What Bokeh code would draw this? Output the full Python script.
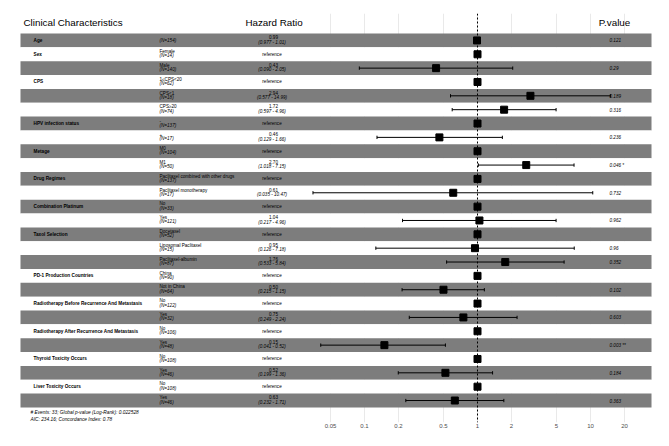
from bokeh.plotting import figure
from bokeh.models import Range1d, FixedTicker, Span, ColumnDataSource
from bokeh.core.properties import value
from bokeh.embed import file_html
from bokeh.resources import INLINE

variables = ["Age", "Sex", "", "CPS", "", "", "HPV infection status", "", "Metage", "",
             "Drug Regimes", "", "Combination Platinum", "", "Taxol Selection", "", "",
             "PD-1 Production Countries", "", "Radiotherapy Before Recurrence And Metastasis", "",
             "Radiotherapy After Recurrence And Metastasis", "", "Thyroid Toxicity Occurs", "",
             "Liver Toxicity Occurs", ""]
levels = ["", "Female", "Male", "1≤CPS<20", "CPS<1", "CPS≥20", "-", "+", "M0", "M1",
          "Paclitaxel combined with other drugs", "Paclitaxel monotherapy", "No", "Yes",
          "Docetaxel", "Liposomal Paclitaxel", "Paclitaxel-albumin", "China", "Not in China",
          "No", "Yes", "No", "Yes", "No", "Yes", "No", "Yes"]
n_obs = [154, 14, 140, 62, 18, 74, 137, 17, 104, 50, 137, 17, 33, 121, 52, 15, 87, 90, 64,
         122, 32, 106, 48, 108, 46, 108, 46]
# None = reference level
hr = [0.99, None, 0.43, None, 2.94, 1.72, None, 0.46, None, 2.70, None, 0.61, None, 1.04,
      None, 0.95, 1.76, None, 0.50, None, 0.75, None, 0.15, None, 0.52, None, 0.63]
ci_low = [0.977, None, 0.090, None, 0.577, 0.597, None, 0.129, None, 1.018, None, 0.035, None, 0.217,
          None, 0.126, 0.533, None, 0.215, None, 0.249, None, 0.041, None, 0.199, None, 0.232]
ci_high = [1.01, None, 2.05, None, 14.99, 4.96, None, 1.66, None, 7.15, None, 10.47, None, 4.96,
           None, 7.18, 5.84, None, 1.15, None, 2.24, None, 0.52, None, 1.36, None, 1.71]
p_values = ["0.121", "", "0.29", "", "0.189", "0.316", "", "0.236", "", "0.046 *", "", "0.732", "",
            "0.962", "", "0.96", "0.352", "", "0.102", "", "0.603", "", "0.003 **", "", "0.184", "", "0.363"]
tick_values = [0.05, 0.1, 0.2, 0.5, 1, 2, 5, 10, 20]
tick_labels = ["0.05", "0.1", "0.2", "0.5", "1", "2", "5", "10", "20"]
footnote = ["# Events: 33; Global p-value (Log-Rank): 0.022528",
            "AIC: 234.16; Concordance Index: 0.78"]

FONT = value("Liberation Sans")
nrows = len(levels)

# pixel -> data helpers (layout only)
def xd(px):
    return 10 ** ((px - 477.0) / 113.0)

def yd(px):
    return (px - 33.0) / 13.85

p = figure(width=653, height=430, output_backend="svg", toolbar_location=None,
           x_axis_type="log", y_axis_location=None,
           x_range=Range1d(xd(0), xd(653)), y_range=Range1d(yd(422), yd(13)),
           min_border_left=0, min_border_right=0, min_border_top=13, min_border_bottom=8)
p.outline_line_color = None
p.background_fill_color = "white"
p.ygrid.visible = False
p.xgrid.ticker = FixedTicker(ticks=tick_values)
p.xgrid.grid_line_color = "#E3E3E3"
p.xgrid.grid_line_width = 0.8
p.xaxis.ticker = FixedTicker(ticks=tick_values)
p.xaxis.major_label_overrides = {v: l for v, l in zip(tick_values, tick_labels)}
p.xaxis.axis_line_color = None
p.xaxis.major_tick_line_color = None
p.xaxis.minor_tick_line_color = None
p.xaxis.major_tick_out = 0
p.xaxis.major_tick_in = 0
p.xaxis.major_label_standoff = 1
p.xaxis.major_label_text_font_size = "6px"
p.xaxis.major_label_text_color = "#4D4D4D"
p.xaxis.major_label_text_font = "Liberation Sans"

rows = list(range(1, nrows + 1))
centers = [r - 0.5 for r in rows]

# bands
band_colors = ["#7D7D7D" if r % 2 == 1 else "#FFFFFF" for r in rows]
p.quad(left=[xd(20)] * nrows, right=[xd(651)] * nrows,
       top=[r - 1 for r in rows], bottom=rows, fill_color=band_colors, line_color=None)

# reference line
p.add_layout(Span(location=1, dimension="height", line_color="black",
                  line_dash="2 2", line_width=1))

# headers
hy = yd(21.5)
p.text(x=[xd(23)], y=[hy], text=["Clinical Characteristics"], text_font=FONT,
       text_font_size="9.8px", text_align="left", text_baseline="middle", text_color="black")
p.text(x=[xd(273.5)], y=[hy], text=["Hazard Ratio"], text_font=FONT,
       text_font_size="9.8px", text_align="center", text_baseline="middle", text_color="black")
p.text(x=[xd(598.3)], y=[hy], text=["P.value"], text_font=FONT,
       text_font_size="9.8px", text_align="left", text_baseline="middle", text_color="black")

# variable names
vr = [(v, c) for v, c in zip(variables, centers) if v]
p.text(x=[xd(33)] * len(vr), y=[c for _, c in vr], text=[v for v, _ in vr], text_font=FONT,
       text_font_size="4.7px", text_font_style="bold", text_align="left",
       text_baseline="middle", text_color="black")

# levels & N
lv = [(l, c) for l, c in zip(levels, centers) if l]
p.text(x=[xd(159)] * len(lv), y=[c - 0.2 for _, c in lv], text=[l for l, _ in lv],
       text_font=FONT, text_font_size="4.6px", text_align="left", text_baseline="middle",
       text_color="black")
n_y = [c + 0.11 if l else c for l, c in zip(levels, centers)]
p.text(x=[xd(159)] * nrows, y=n_y, text=["(N=%d)" % n for n in n_obs], text_font=FONT,
       text_font_size="4.6px", text_font_style="italic", text_align="left",
       text_baseline="middle", text_color="black")

# HR text
ref_c = [c for h, c in zip(hr, centers) if h is None]
p.text(x=[xd(271.5)] * len(ref_c), y=ref_c, text=["reference"] * len(ref_c), text_font=FONT,
       text_font_size="4.6px", text_align="center", text_baseline="middle", text_color="black")
est = [(h, lo, hi, c) for h, lo, hi, c in zip(hr, ci_low, ci_high, centers) if h is not None]
p.text(x=[xd(273)] * len(est), y=[e[3] - 0.23 for e in est], text=["%.2f" % e[0] for e in est],
       text_font=FONT, text_font_size="4.6px", text_align="center", text_baseline="middle",
       text_color="black")
p.text(x=[xd(271.5)] * len(est), y=[e[3] + 0.12 for e in est],
       text=["(%.3f - %.2f)" % (e[1], e[2]) for e in est], text_font=FONT,
       text_font_size="4.6px", text_font_style="italic", text_align="center",
       text_baseline="middle", text_color="black")

# p values
pv = [(t, c) for t, c in zip(p_values, centers) if t]
p.text(x=[xd(609)] * len(pv), y=[c for _, c in pv], text=[t for t, _ in pv], text_font=FONT,
       text_font_size="4.6px", text_font_style="italic", text_align="left",
       text_baseline="middle", text_color="black")

# CIs
src = ColumnDataSource(dict(lo=[e[1] for e in est], hi=[e[2] for e in est],
                            y=[e[3] for e in est],
                            y0=[e[3] - 0.12 for e in est], y1=[e[3] + 0.12 for e in est]))
p.segment(x0="lo", x1="hi", y0="y", y1="y", source=src, line_color="black", line_width=1)
p.segment(x0="lo", x1="lo", y0="y0", y1="y1", source=src, line_color="black", line_width=1)
p.segment(x0="hi", x1="hi", y0="y0", y1="y1", source=src, line_color="black", line_width=1)

# points
pt_x = [h if h is not None else 1.0 for h in hr]
p.scatter(x=pt_x, y=centers, marker="square", size=7, fill_color="black", line_color="black")

# footnote
p.text(x=[xd(30)] * 2, y=[yd(411.7), yd(418.5)], text=footnote, text_font=FONT,
       text_font_size="4.8px", text_font_style="italic", text_align="left",
       text_baseline="middle", text_color="black")

open("out.html", "w").write(file_html(p, INLINE))
